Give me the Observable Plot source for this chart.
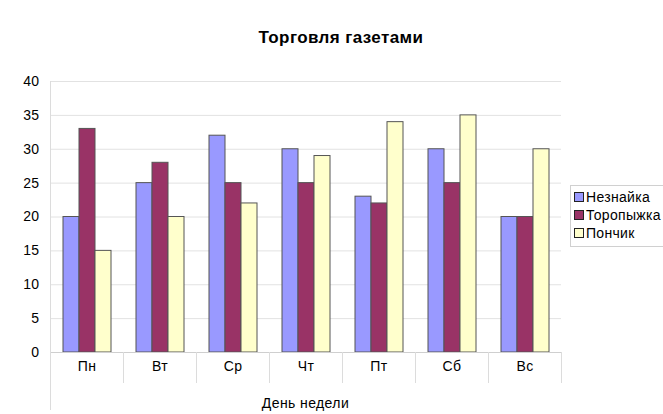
<!DOCTYPE html>
<html><head><meta charset="utf-8">
<script src="https://cdn.jsdelivr.net/npm/d3@7"></script>
<script src="https://cdn.jsdelivr.net/npm/@observablehq/plot@0.6"></script>
<style>
html,body{margin:0;padding:0;background:#fff;}
#wrap{position:relative;width:663px;height:414px;overflow:hidden;font-family:"Liberation Sans",Arial,sans-serif;}
#title{position:absolute;left:0;width:682px;top:28px;text-align:center;font-weight:bold;font-size:17px;letter-spacing:0.4px;color:#000;}
#legend{position:absolute;left:570px;top:185px;width:100px;height:62px;border:1px solid #d0d0d0;border-right:none;box-sizing:border-box;font-size:14px;letter-spacing:0.3px;color:#000;padding-top:2px;}
.item{height:18px;line-height:18px;white-space:nowrap;padding-left:3px;}
.sw{display:inline-block;width:8px;height:8px;border:1px solid #222;margin-right:2px;vertical-align:0px;}
#chart{position:absolute;left:0;top:0;}
</style></head>
<body><div id="wrap"><div id="chart"></div><div id="title">Торговля газетами</div><div id="legend"></div></div>
<script>
const days = ["Пн","Вт","Ср","Чт","Пт","Сб","Вс"];
const seriesNames = ["Незнайка","Торопыжка","Пончик"];
const neznayka = [20,25,32,30,23,30,20];
const toropyzhka = [33,28,25,25,22,25,20];
const ponchik = [15,20,22,29,34,35,30];
const colors = ["#9999FF","#993366","#FFFFCC"];
const yTicks = [0,5,10,15,20,25,30,35,40];

const values = [neznayka, toropyzhka, ponchik];
const data = [];
days.forEach((d,i) => seriesNames.forEach((s,j) => data.push({day:d, series:s, value:values[j][i]})));

const W = 663, H = 414;
const mL = 48, mR = 101, mT = 81, mB = 62;

const plot = Plot.plot({
  width: W, height: H,
  marginLeft: mL, marginRight: mR, marginTop: mT, marginBottom: mB,
  style: {fontFamily: '"Liberation Sans", Arial, sans-serif', fontSize: "14px", letterSpacing: "0.4px", color: "#000", background: "transparent"},
  fx: {domain: days, padding: 0, label: null, tickSize: 0, tickPadding: 9},
  x: {domain: seriesNames, paddingInner: 0, paddingOuter: 0.7, axis: null},
  y: {domain: [0,40], ticks: yTicks, tickSize: 0, tickPadding: 11, label: null},
  color: {domain: seriesNames, range: colors},
  marks: [
    Plot.ruleY(yTicks, {stroke: "#e2e2e2", strokeWidth: 1}),
    Plot.barY(data, {fx: "day", x: "series", y: "value", fill: "series", stroke: "#555", strokeWidth: 1}),
    Plot.ruleY([0], {stroke: "#cfcfcf"})
  ]
});
document.getElementById("chart").appendChild(plot);

// category separators & axis line using the library's scales
const fx = plot.scale("fx");
const y = plot.scale("y");
const svg = d3.select(plot);
const y0 = y.apply(0);
const yTop = y.apply(40);
const g = svg.append("g").attr("stroke", "#dcdcdc").attr("stroke-width", 1);
days.forEach((d, i) => {
  const xL = fx.apply(d);
  if (i > 0) g.append("line").attr("x1", xL + 0.5).attr("x2", xL + 0.5).attr("y1", y0).attr("y2", y0 + 31);
});
const xLast = fx.apply(days[days.length-1]) + fx.bandwidth;
g.append("line").attr("x1", xLast + 0.5).attr("x2", xLast + 0.5).attr("y1", y0).attr("y2", y0 + 31);
const xFirst = fx.apply(days[0]);
g.append("line").attr("x1", xFirst + 0.5).attr("x2", xFirst + 0.5).attr("y1", yTop).attr("y2", y0 + 58);
svg.append("text").attr("x", (xFirst + xLast) / 2).attr("y", y0 + 56)
  .attr("text-anchor", "middle").attr("font-size", "14px").attr("fill", "#000").text("День недели");

const leg = document.getElementById("legend");
seriesNames.forEach((s, j) => {
  const it = document.createElement("div"); it.className = "item";
  const sw = document.createElement("span"); sw.className = "sw"; sw.style.background = colors[j];
  it.appendChild(sw); it.appendChild(document.createTextNode(s)); leg.appendChild(it);
});
</script></body></html>
